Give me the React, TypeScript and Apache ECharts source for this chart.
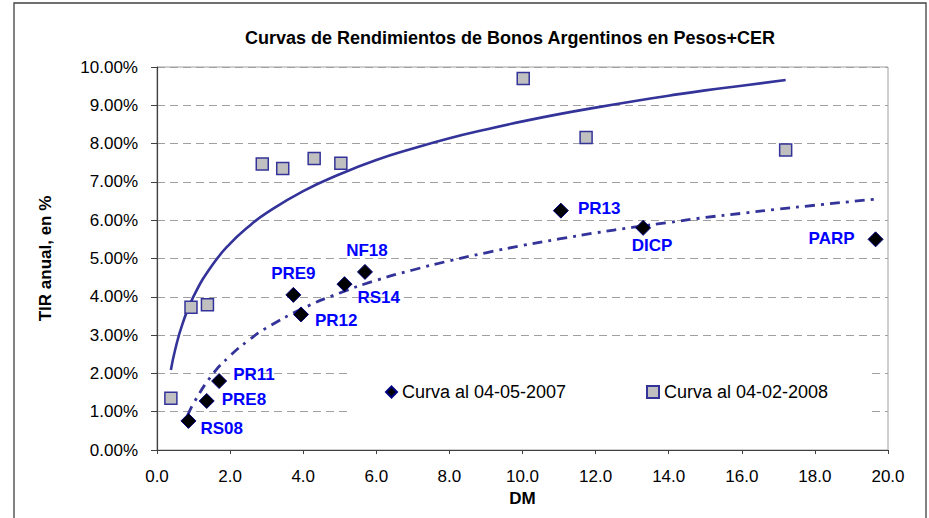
import React, { useEffect, useRef } from "react";
import * as echarts from "echarts";

const titleText = "Curvas de Rendimientos de Bonos Argentinos en Pesos+CER";
const yAxisName = "TIR anual, en %";
const xAxisName = "DM";
const series2007Name = "Curva al 04-05-2007";
const series2008Name = "Curva al 04-02-2008";

// Bonds at 04-05-2007 (diamonds)
const bonds2007 = ["RS08", "PRE8", "PR11", "PRE9", "PR12", "RS14", "NF18", "PR13", "DICP", "PARP"];
const dm2007 = [0.86, 1.36, 1.7, 3.73, 3.94, 5.13, 5.69, 11.05, 13.3, 19.66];
const tir2007 = [0.76, 1.28, 1.8, 4.05, 3.54, 4.33, 4.65, 6.25, 5.8, 5.5];

// Bonds at 04-02-2008 (squares)
const dm2008 = [0.38, 0.93, 1.38, 2.88, 3.44, 4.3, 5.03, 10.02, 11.74, 17.2];
const tir2008 = [1.35, 3.73, 3.79, 7.47, 7.35, 7.61, 7.49, 9.7, 8.16, 7.83];

// Trend curve 2008 (solid)
const trend2008X = [0.38, 0.5, 0.7, 1.0, 1.5, 2.0, 2.5, 3.0, 4.0, 5.0, 6.0, 7.0, 8.0, 9.0, 10.0, 11.0, 12.0, 13.0, 14.0, 15.0, 16.0, 17.2];
const trend2008Y = [2.09, 2.63, 3.3, 4.01, 4.81, 5.39, 5.83, 6.19, 6.76, 7.2, 7.57, 7.87, 8.14, 8.37, 8.58, 8.77, 8.94, 9.1, 9.25, 9.39, 9.51, 9.66];

// Trend curve 2007 (dashed)
const trend2007X = [0.84, 1.0, 1.5, 2.0, 2.5, 3.0, 4.0, 5.0, 6.0, 7.0, 8.0, 9.0, 10.0, 11.0, 12.0, 13.0, 14.0, 15.0, 16.0, 17.0, 18.0, 19.66];
const trend2007Y = [0.91, 1.22, 1.95, 2.46, 2.86, 3.19, 3.7, 4.1, 4.43, 4.7, 4.94, 5.15, 5.34, 5.51, 5.67, 5.81, 5.94, 6.07, 6.18, 6.29, 6.39, 6.55];

const labelLayout: Record<string, any> = {
  RS08: { position: "right", distance: 4, offset: [0, 8] },
  PRE8: { position: "right", distance: 7, offset: [0, -1] },
  PR11: { position: "right", distance: 6, offset: [0, -7] },
  PRE9: { position: "top", distance: 5, offset: [0, 0] },
  PR12: { position: "right", distance: 6, offset: [0, 6] },
  RS14: { position: "right", distance: 5, offset: [0, 13] },
  NF18: { position: "top", distance: 5, offset: [2, 0] },
  PR13: { position: "right", distance: 9, offset: [0, -2] },
  DICP: { position: "bottom", distance: 1, offset: [9, 0] },
  PARP: { position: "left", distance: 13, offset: [0, -1] },
};

const FONT = "'Liberation Sans', Arial, sans-serif";

export default function App() {
  const ref = useRef<HTMLDivElement>(null);

  useEffect(() => {
    if (!ref.current) return;
    const chart = echarts.init(ref.current, undefined, { renderer: "svg" });

    const pts2007 = bonds2007.map((name, i) => ({
      name,
      value: [dm2007[i], tir2007[i]],
      label: { show: true, ...labelLayout[name] },
    }));
    const pts2008 = dm2008.map((x, i) => [x, tir2008[i]]);
    const line2008 = trend2008X.map((x, i) => [x, trend2008Y[i]]);
    const line2007 = trend2007X.map((x, i) => [x, trend2007Y[i]]);

    const legendText = { fontFamily: FONT, fontSize: 18, color: "#000" };

    const option: any = {
      animation: false,
      backgroundColor: "#ffffff",
      textStyle: { fontFamily: FONT },
      grid: {
        left: 157,
        right: 41,
        top: 67,
        bottom: 68,
        show: true,
        borderColor: "#a0a0a0",
        borderWidth: 1,
        backgroundColor: "transparent",
      },
      legend: [
        {
          data: [series2007Name],
          left: 385,
          top: 383,
          padding: 0,
          itemWidth: 11,
          itemHeight: 11,
          textStyle: legendText,
          selectedMode: false,
        },
        {
          data: [series2008Name],
          left: 646,
          top: 383,
          padding: 0,
          itemWidth: 12,
          itemHeight: 12,
          textStyle: legendText,
          selectedMode: false,
        },
      ],
      xAxis: {
        type: "value",
        min: 0,
        max: 20,
        interval: 2,
        name: xAxisName,
        nameLocation: "middle",
        nameGap: 37,
        nameTextStyle: { fontFamily: FONT, fontSize: 17, fontWeight: "bold", color: "#000" },
        axisLine: { show: true, onZero: false, lineStyle: { color: "#404040", width: 1.2 } },
        axisTick: { show: true, inside: false, length: 4, lineStyle: { color: "#404040" } },
        axisLabel: {
          fontFamily: FONT,
          fontSize: 17,
          color: "#000",
          margin: 18,
          formatter: (v: number) => v.toFixed(1),
        },
        splitLine: { show: false },
      },
      yAxis: {
        type: "value",
        min: 0,
        max: 10,
        interval: 1,
        name: yAxisName,
        nameLocation: "middle",
        nameGap: 103,
        nameTextStyle: { fontFamily: FONT, fontSize: 17, fontWeight: "bold", color: "#000" },
        axisLine: { show: true, onZero: false, lineStyle: { color: "#404040", width: 1.2 } },
        axisTick: { show: true, inside: false, length: 6, lineStyle: { color: "#404040" } },
        axisLabel: {
          fontFamily: FONT,
          fontSize: 17,
          color: "#000",
          margin: 19,
          formatter: (v: number) => v.toFixed(2) + "%",
        },
        splitLine: { show: true, lineStyle: { color: "#a0a0a0", type: [8, 5], width: 1 } },
      },
      graphic: [
        {
          type: "rect",
          z: 1,
          shape: { x: 350, y: 358, width: 519, height: 70 },
          style: { fill: "#ffffff", stroke: "none" },
          silent: true,
        },
        {
          type: "rect",
          z: 10,
          shape: { x: 14, y: 3, width: 912, height: 540 },
          style: { fill: "none", stroke: "#404040", lineWidth: 1.3 },
          silent: true,
        },
        {
          type: "text",
          z: 10,
          x: 510,
          y: 38,
          style: {
            text: titleText,
            fontFamily: FONT,
            fontSize: 18,
            fontWeight: "bold",
            fill: "#000",
            align: "center",
            verticalAlign: "middle",
          },
        },
      ],
      series: [
        {
          type: "line",
          name: "trend2008",
          data: line2008,
          smooth: true,
          showSymbol: false,
          symbol: "none",
          silent: true,
          lineStyle: { color: "#333399", width: 2.6 },
          z: 2,
        },
        {
          type: "line",
          name: "trend2007",
          data: line2007,
          smooth: true,
          showSymbol: false,
          symbol: "none",
          silent: true,
          lineStyle: { color: "#333399", width: 2.8, type: [10, 6, 3, 6] },
          z: 2,
        },
        {
          type: "scatter",
          name: series2008Name,
          data: pts2008,
          symbol: "rect",
          symbolSize: 12,
          itemStyle: { color: "#c0c0c0", borderColor: "#333399", borderWidth: 1.5, opacity: 1 },
          z: 3,
        },
        {
          type: "scatter",
          name: series2007Name,
          data: pts2007,
          symbol: "diamond",
          symbolSize: 15,
          itemStyle: { color: "#000000", borderColor: "#000080", borderWidth: 1, opacity: 1 },
          label: {
            show: true,
            formatter: "{b}",
            fontFamily: FONT,
            fontSize: 17,
            fontWeight: "bold",
            color: "#0000ff",
            opacity: 1,
          },
          z: 4,
        },
      ],
    };

    chart.setOption(option);
    return () => {
      chart.dispose();
    };
  }, []);

  return (
    <div
      ref={ref}
      style={{ position: "absolute", left: 0, top: 0, width: 929, height: 518 }}
    />
  );
}
